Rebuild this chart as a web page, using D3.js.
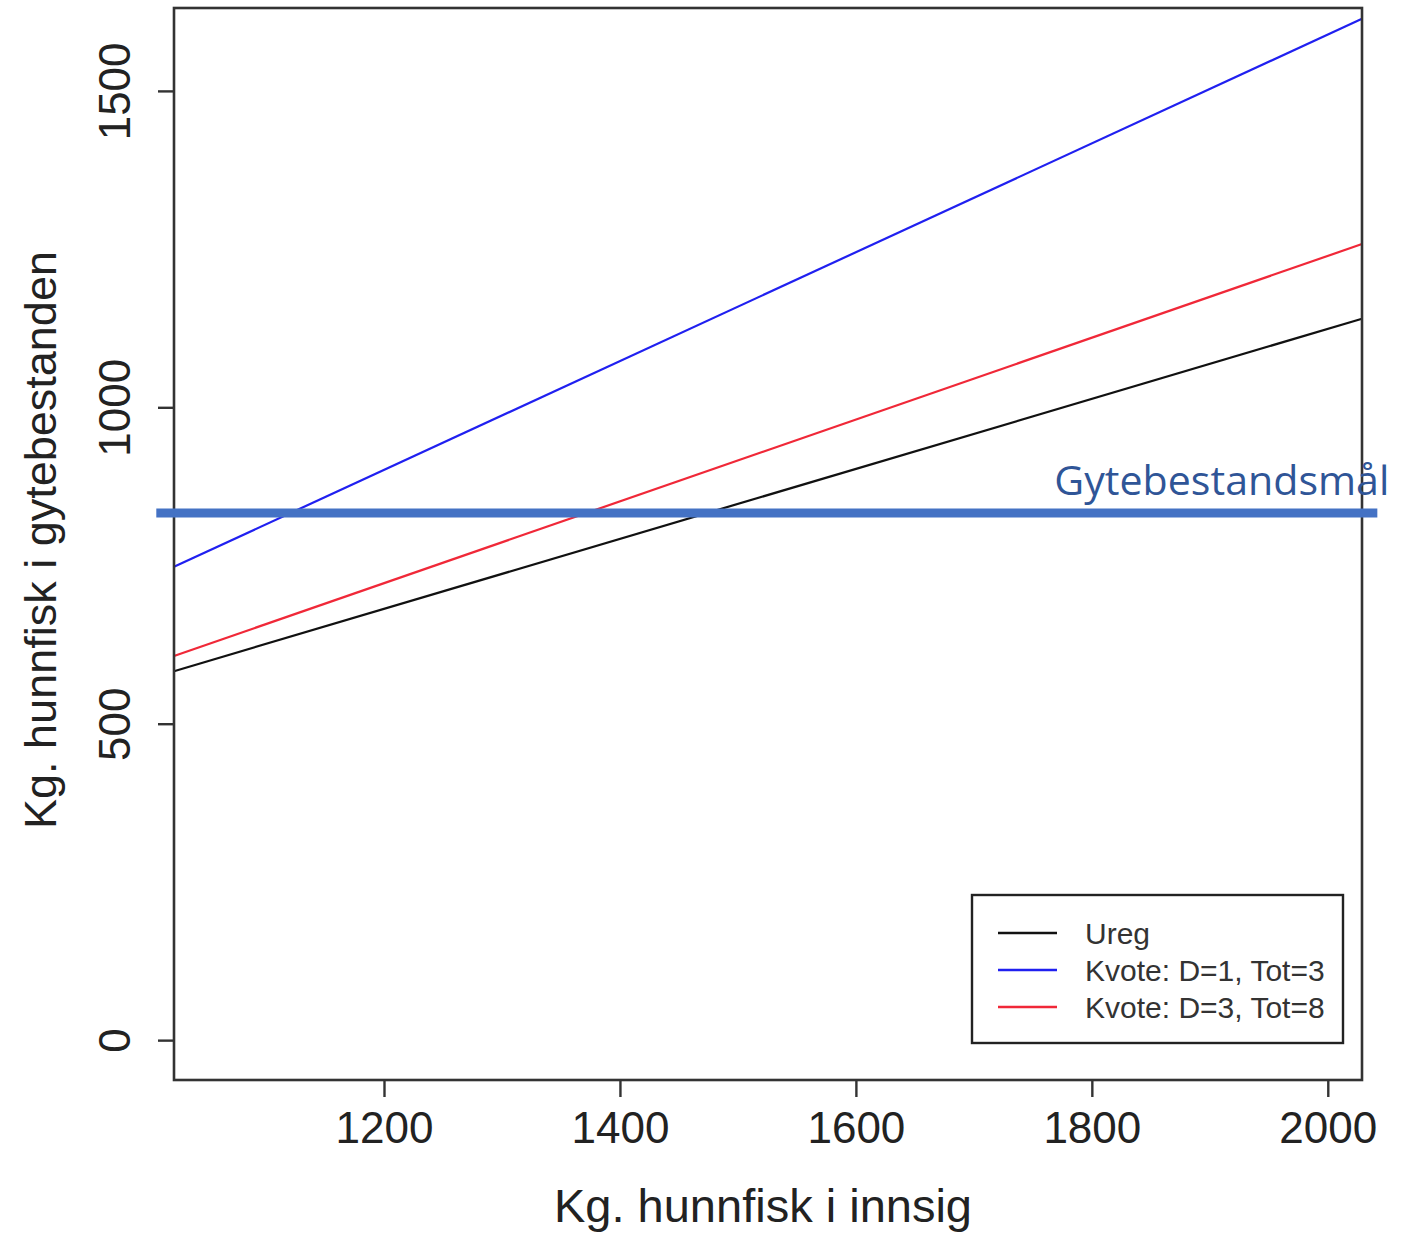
<!DOCTYPE html>
<html>
<head>
<meta charset="utf-8">
<script src="https://cdn.jsdelivr.net/npm/d3@7"></script>
<style>
  html, body { margin: 0; padding: 0; background: #fff; }
  svg { display: block; }
</style>
</head>
<body>
<svg id="chart" width="1420" height="1233"></svg>
<script>
// ---- data ----
const xDomain = [1022, 2029];
const yDomain = [-63, 1631];
const xTicks = [1200, 1400, 1600, 1800, 2000];
const yTicks = [0, 500, 1000, 1500];
const seriesNames = ["Ureg", "Kvote: D=1, Tot=3", "Kvote: D=3, Tot=8"];
const seriesColors = ["#111111", "#2020f0", "#f02838"];
const seriesX = [1022, 2029];
const uregY = [583, 1140];
const kvote13Y = [748, 1614];
const kvote38Y = [607, 1258];
const targetValue = 833;
const targetXExtent = [1007, 2042];
const targetLabel = "Gytebestandsmål";
const xTitle = "Kg. hunnfisk i innsig";
const yTitle = "Kg. hunnfisk i gytebestanden";

// ---- layout ----
const svg = d3.select("#chart");
const plot = { left: 174, right: 1362, top: 8, bottom: 1080 };
const x = d3.scaleLinear().domain(xDomain).range([plot.left, plot.right]);
const y = d3.scaleLinear().domain(yDomain).range([plot.bottom, plot.top]);
const font = "'Liberation Sans', Arial, sans-serif";
const axisColor = "#333";

// lines
const seriesYs = [uregY, kvote13Y, kvote38Y];
const line = d3.line().x(d => x(d[0])).y(d => y(d[1]));
seriesYs.forEach((ys, i) => {
  const pts = seriesX.map((xv, j) => [xv, ys[j]]);
  svg.append("path").attr("d", line(pts))
    .attr("fill", "none").attr("stroke", seriesColors[i]).attr("stroke-width", 2.2);
});

// plot box
svg.append("rect")
  .attr("x", plot.left).attr("y", plot.top)
  .attr("width", plot.right - plot.left).attr("height", plot.bottom - plot.top)
  .attr("fill", "none").attr("stroke", axisColor).attr("stroke-width", 2.6);

// x axis
const xAxis = d3.axisBottom(x).tickValues(xTicks).tickSize(17).tickPadding(15).tickFormat(d3.format("d"));
const gx = svg.append("g").attr("transform", `translate(0,${plot.bottom})`).call(xAxis);
gx.select(".domain").remove();
gx.selectAll(".tick line").attr("stroke", axisColor).attr("stroke-width", 2.4);
gx.selectAll(".tick text").attr("font-family", font).attr("font-size", 44).attr("fill", "#222");

// y axis
const yAxis = d3.axisLeft(y).tickValues(yTicks).tickSize(16).tickPadding(0).tickFormat(d3.format("d"));
const gy = svg.append("g").attr("transform", `translate(${plot.left},0)`).call(yAxis);
gy.select(".domain").remove();
gy.selectAll(".tick line").attr("stroke", axisColor).attr("stroke-width", 2.4);
gy.selectAll(".tick text")
  .attr("font-family", font).attr("font-size", 44).attr("fill", "#222")
  .attr("x", null).attr("dy", null)
  .attr("text-anchor", "middle")
  .attr("transform", "translate(-44,0) rotate(-90)");

// axis titles
svg.append("text").attr("x", (plot.left + plot.right) / 2 - 5).attr("y", 1222)
  .attr("text-anchor", "middle").attr("font-family", font).attr("font-size", 47).attr("fill", "#222")
  .text(xTitle);
svg.append("text")
  .attr("transform", `translate(56,${(plot.top + plot.bottom) / 2 - 4}) rotate(-90)`)
  .attr("text-anchor", "middle").attr("font-family", font).attr("font-size", 45).attr("fill", "#222")
  .text(yTitle);

// legend
const lg = { w: 371, h: 148, rightInset: 19, bottomInset: 37 };
const lgX = plot.right - lg.rightInset - lg.w;
const lgY = plot.bottom - lg.bottomInset - lg.h;
svg.append("rect").attr("x", lgX).attr("y", lgY).attr("width", lg.w).attr("height", lg.h)
  .attr("fill", "#fff").attr("stroke", "#222").attr("stroke-width", 2.4);
seriesNames.forEach((name, i) => {
  const yy = lgY + 38 + i * 37;
  svg.append("line").attr("x1", lgX + 26).attr("x2", lgX + 85).attr("y1", yy).attr("y2", yy)
    .attr("stroke", seriesColors[i]).attr("stroke-width", 2.4);
  svg.append("text").attr("x", lgX + 113).attr("y", yy + 11)
    .attr("font-family", font).attr("font-size", 30).attr("fill", "#333")
    .text(name);
});

// target annotation
svg.append("line")
  .attr("x1", x(targetXExtent[0])).attr("x2", x(targetXExtent[1]))
  .attr("y1", y(targetValue)).attr("y2", y(targetValue))
  .attr("stroke", "#4472C4").attr("stroke-width", 9);
svg.append("text")
  .attr("x", x(targetXExtent[1]) + 12).attr("y", y(targetValue) - 18)
  .attr("text-anchor", "end")
  .attr("font-family", "'Open Sans', 'Noto Sans', sans-serif").attr("font-size", 41)
  .attr("fill", "#2F5597")
  .attr("textLength", 335).attr("lengthAdjust", "spacingAndGlyphs")
  .text(targetLabel);
</script>
</body>
</html>
